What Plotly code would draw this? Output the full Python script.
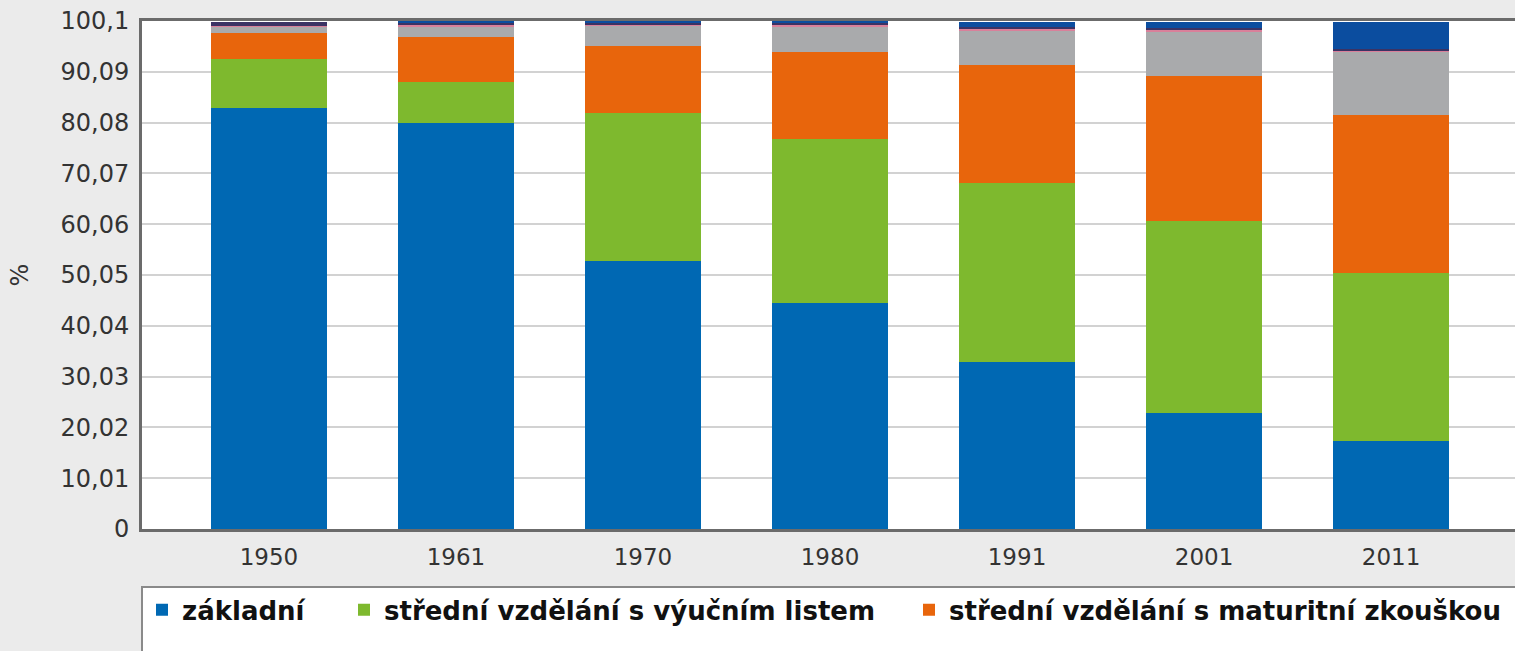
import plotly.graph_objects as go

years = ['1950', '1961', '1970', '1980', '1991', '2001', '2011']

zakladni = [82.9, 80.1, 52.9, 44.6, 33.0, 22.8, 17.3]
vyucni = [9.8, 7.9, 29.0, 32.3, 35.2, 37.8, 33.1]
maturita = [5.1, 9.0, 13.3, 17.0, 23.2, 28.6, 31.2]
vysokoskolske = [1.3, 2.1, 4.0, 5.1, 6.9, 8.8, 12.5]
bez_vzdelani = [0.1, 0.3, 0.1, 0.3, 0.3, 0.4, 0.2]
ostatni = [0.8, 0.4, 0.6, 0.5, 0.3, 0.3, 0.2]
nezjisteno = [0.0, 0.2, 0.1, 0.2, 1.1, 1.3, 5.5]

y_ticks = [0, 10.01, 20.02, 30.03, 40.04, 50.05, 60.06, 70.07, 80.08, 90.09, 100.1]
y_tick_text = ['0', '10,01', '20,02', '30,03', '40,04', '50,05', '60,06',
               '70,07', '80,08', '90,09', '100,1']

# name, values, colour, shown in legend, legend entry width
series = [
    ('základní', zakladni, '#0068b3', True, 157),
    ('střední vzdělání s výučním listem', vyucni, '#7eb92e', True, 520),
    ('střední vzdělání s maturitní zkouškou', maturita, '#e8650c', True, None),
    ('vysokoškolské', vysokoskolske, '#a9aaac', False, None),
    ('bez vzdělání', bez_vzdelani, '#d9809a', False, None),
    ('ostatní', ostatni, '#3b3364', False, None),
    ('nezjištěno', nezjisteno, '#0b4d9f', False, None),
]

fig = go.Figure()
for name, values, color, in_legend, lw in series:
    bar = go.Bar(
        x=years,
        y=values,
        name=name,
        marker=dict(color=color, line_width=0),
        showlegend=in_legend,
    )
    if lw:
        bar.legendwidth = lw
    fig.add_trace(bar)

fig.update_layout(
    barmode='stack',
    bargap=0.38,
    width=1515,
    height=651,
    margin=dict(l=142, r=0, t=21, b=122),
    paper_bgcolor='#ebebeb',
    plot_bgcolor='#ffffff',
    font=dict(family='DejaVu Sans', size=24, color='#333333'),
    xaxis=dict(
        type='category',
        range=[-0.679, 6.663],
        automargin=False,
        showline=True,
        linecolor='#6b6b6b',
        linewidth=3,
        mirror=True,
        showgrid=False,
        ticks='',
        ticklabelstandoff=5,
        tickfont=dict(size=23, color='#333333'),
    ),
    yaxis=dict(
        range=[0, 100.1],
        automargin=False,
        tickvals=y_ticks,
        ticktext=y_tick_text,
        showline=True,
        linecolor='#6b6b6b',
        linewidth=3,
        showgrid=True,
        gridcolor='#d2d2d2',
        gridwidth=2,
        zeroline=False,
        ticks='',
        ticklabelstandoff=5,
        tickfont=dict(size=24, color='#333333'),
        title=dict(text='%', standoff=26, font=dict(size=24, color='#333333')),
    ),
    legend=dict(
        orientation='h',
        x=0,
        xanchor='left',
        y=-0.159,
        yanchor='middle',
        bgcolor='rgba(0,0,0,0)',
        font=dict(family='DejaVu Sans', size=26, color='#111111', weight='bold'),
        traceorder='normal',
    ),
    shapes=[
        dict(
            type='rect',
            xref='paper',
            yref='paper',
            x0=0,
            x1=1.2,
            y0=-0.114,
            y1=-0.4,
            fillcolor='#ffffff',
            line=dict(color='#8a8a8a', width=2),
            layer='above',
        ),
    ],
)

fig.write_html(
    'out.html',
    config={'displayModeBar': False},
    post_script="document.body.style.margin='0';",
)
